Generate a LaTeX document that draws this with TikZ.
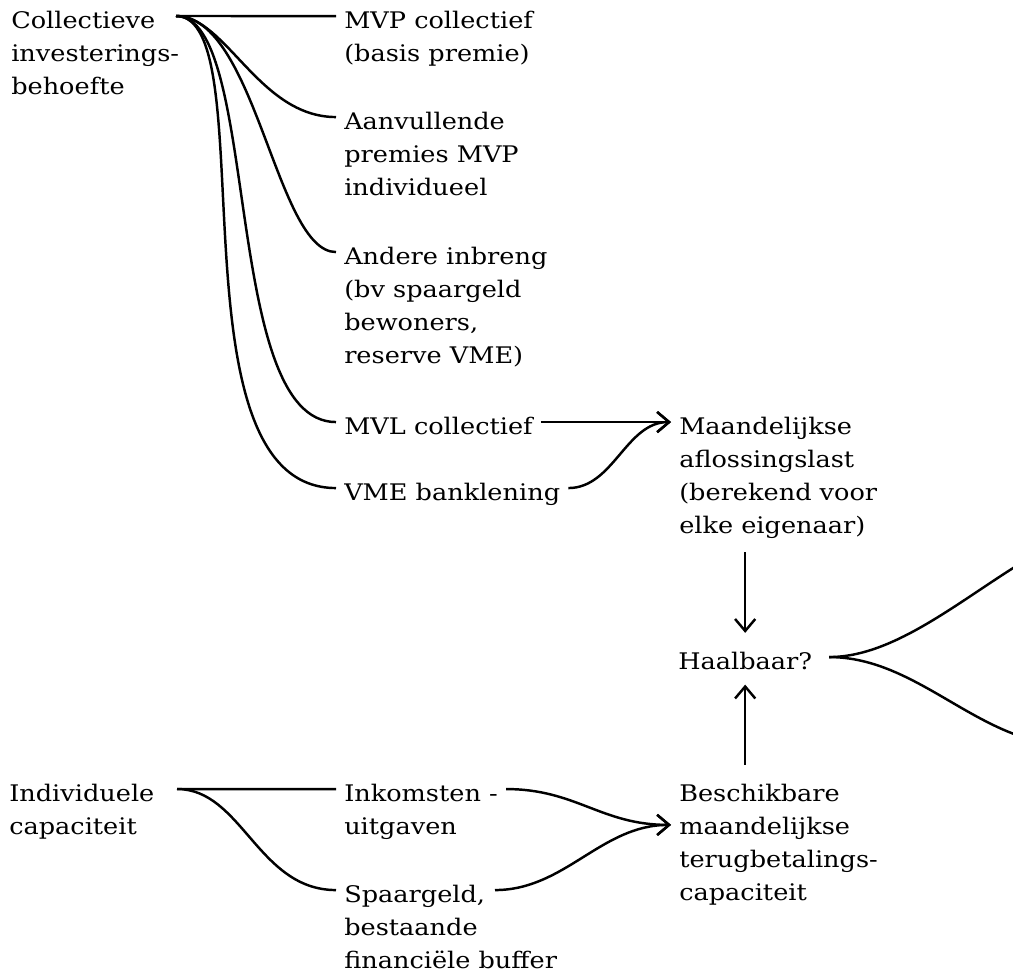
\documentclass[tikz,border=0pt]{standalone}
\usepackage{fontspec}
\setmainfont[FakeStretch=1.12]{DejaVu Serif}
\usetikzlibrary{arrows.meta}

% lines of a label, baseline on the first one
\newcommand\lns[1]{\begin{tabular}[t]{@{}l@{}}#1\end{tabular}}

\begin{document}
\begin{tikzpicture}[x=0.02cm, y=-0.02cm, line width=1.4pt,
  >={Straight Barb[length=6.8pt,width=11.5pt]},
  txt/.style={anchor=base west, inner xsep=4pt, inner ysep=0pt,
    font=\fontsize{13}{18.8}\selectfont}]

% Sizes
\def\ly{6.8pt}

\useasboundingbox (0,0) rectangle (1013,974);

% Collective investment need
\node[txt] (coll) at (3,28) {\lns{Collectieve\\investerings-\\behoefte}};
\node[txt] (mvp) at (336,28) {\lns{MVP collectief\\(basis premie)}};
\node[txt] (aanv) at (336,129) {\lns{Aanvullende\\premies MVP\\individueel}};
\node[txt] (andere) at (336,264) {\lns{Andere inbreng\\(bv spaargeld\\bewoners,\\reserve VME)}};
\node[txt] (mvl) at (336,434) {MVL collectief};
\node[txt] (vme) at (336,500) {VME banklening};

% Repayment and feasibility
\node[txt] (maand) at (671,434) {\lns{Maandelijkse\\aflossingslast\\(berekend voor\\elke eigenaar)}};
\node[txt] (haal) at (670,669) {Haalbaar?};
\node[txt] (besch) at (671,801) {\lns{Beschikbare\\maandelijkse\\terugbetalings-\\capaciteit}};

% Individual capacity
\node[txt] (ind) at (1,801) {\lns{Individuele\\capaciteit}};
\node[txt] (ink) at (336,801) {\lns{Inkomsten -\\uitgaven}};
\node[txt] (spaar) at (336,902) {\lns{Spaargeld,\\bestaande\\financiële buffer}};

% Branch points
\coordinate (chub) at (176,16);
\coordinate (ihub) at (177,789);
\coordinate (ja) at (1130,523);
\coordinate (nee) at (1070,745);

% Fan of the collective need
\draw (chub) -- ([yshift=\ly]mvp.base west);
\foreach \n/\a/\b in {aanv/50/77, andere/80/60, mvl/85/115, vme/90/170} {
  \draw (chub) .. controls +(\a,0) and +(-\b,0) .. ([yshift=\ly]\n.base west);
}

% Loans to monthly repayment
\draw[->] ([yshift=\ly]mvl.base east) -- ([yshift=\ly]maand.base west);
\draw[->] ([yshift=\ly]vme.base east) .. controls +(45,0) and +(-45,0) .. ([yshift=\ly]maand.base west);

% Fan of the individual capacity
\draw (ihub) -- ([yshift=\ly]ink.base west);
\draw (ihub) .. controls +(65,0) and +(-78,0) .. ([yshift=\ly]spaar.base west);
\draw[->] ([yshift=\ly]ink.base east) .. controls +(70,0) and +(-70,0) .. ([yshift=-13.6pt]besch.base west);
\draw[->] ([xshift=-40pt,yshift=\ly]spaar.base east) .. controls +(70,0) and +(-70,0) .. ([yshift=-13.6pt]besch.base west);

% Feasible?
\draw[->, shorten <=4.5pt, shorten >=10pt] (maand.south -| haal.north) -- (haal.north);
\draw[->, shorten <=6.8pt, shorten >=8pt] (besch.north -| haal.south) -- (haal.south);
\draw ([xshift=5pt,yshift=\ly]haal.base east) .. controls +(100,0) and +(-100,0) .. (ja);
\draw ([xshift=5pt,yshift=\ly]haal.base east) .. controls +(90,0) and +(-90,0) .. (nee);

\end{tikzpicture}
\end{document}
